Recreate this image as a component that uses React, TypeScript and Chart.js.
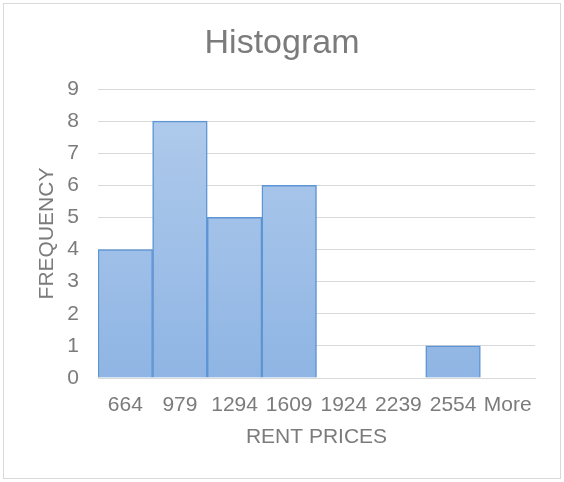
import React, { useEffect, useRef } from "react";
import { Chart, registerables } from "chart.js";

Chart.register(...registerables);

const categories = ["664", "979", "1294", "1609", "1924", "2239", "2554", "More"];
const frequencies = [4, 8, 5, 6, 0, 0, 1, 0];
const chartTitle = "Histogram";
const xTitle = "RENT PRICES";
const yTitle = "FREQUENCY";

const FONT = "'Liberation Sans', Arial, sans-serif";
const TEXT = "#7b7b7b";

const frame = {
  id: "frame",
  beforeDraw(chart: any) {
    const ctx = chart.ctx;
    ctx.save();
    ctx.fillStyle = "#ffffff";
    ctx.fillRect(0, 0, chart.width, chart.height);
    ctx.strokeStyle = "#d9d9d9";
    ctx.lineWidth = 1;
    ctx.strokeRect(3.5, 3.5, chart.width - 7, chart.height - 7);
    ctx.restore();
  },
};

export default function App() {
  const ref = useRef<HTMLCanvasElement | null>(null);
  useEffect(() => {
    document.body.style.margin = "0";
    const canvas = ref.current;
    if (!canvas) return;
    const chart = new Chart(canvas, {
      type: "bar",
      data: {
        labels: categories,
        datasets: [
          {
            label: "Frequency",
            data: frequencies,
            backgroundColor: (c: any) => {
              const ca = c.chart.chartArea;
              if (!ca) return "#a3c0e6";
              const g = c.chart.ctx.createLinearGradient(0, ca.top, 0, ca.bottom);
              g.addColorStop(0, "#b2ccec");
              g.addColorStop(1, "#8fb5e4");
              return g;
            },
            borderColor: "#5d94d4",
            borderWidth: 1.5,
            borderSkipped: "start",
            categoryPercentage: 1,
            barPercentage: 1,
          },
        ],
      },
      options: {
        responsive: false,
        animation: false,
        layout: { padding: { left: 0, right: 0, top: 0, bottom: 0 } },
        plugins: {
          legend: { display: false },
          tooltip: { enabled: false },
          title: {
            display: true,
            text: chartTitle,
            color: TEXT,
            font: { family: FONT, size: 34, weight: "normal" },
            padding: { top: 23.6, bottom: 24.6 },
          },
        },
        scales: {
          x: {
            grid: { display: false, drawTicks: false },
            border: { display: true, color: "#d9d9d9", width: 1 },
            ticks: {
              color: TEXT,
              font: { family: FONT, size: 21 },
              padding: 14.4,
              maxRotation: 0,
              autoSkip: false,
            },
            title: {
              display: true,
              text: xTitle,
              color: TEXT,
              font: { family: FONT, size: 21 },
              padding: { top: 0, bottom: 32.4 },
            },
            afterFit: (s: any) => {
              s.height = 104;
            },
          },
          y: {
            min: 0,
            max: 9,
            grid: { color: "#d9d9d9", lineWidth: 1, drawTicks: false },
            border: { display: false },
            ticks: {
              stepSize: 1,
              color: TEXT,
              font: { family: FONT, size: 21 },
              padding: 19,
            },
            title: {
              display: true,
              text: yTitle,
              color: TEXT,
              font: { family: FONT, size: 21 },
              padding: { top: 34.4, bottom: 0 },
            },
            afterFit: (s: any) => {
              s.width = 98;
            },
          },
          yRight: {
            type: "linear",
            position: "right",
            min: 0,
            max: 9,
            grid: { display: false, drawTicks: false },
            border: { display: false },
            ticks: { display: false },
            afterFit: (s: any) => {
              s.width = 29;
            },
          },
        },
      },
      plugins: [frame],
    } as any);
    return () => chart.destroy();
  }, []);
  return (
    <div style={{ width: 564, height: 482 }}>
      <canvas ref={ref} width={564} height={482} style={{ display: "block" }} />
    </div>
  );
}
